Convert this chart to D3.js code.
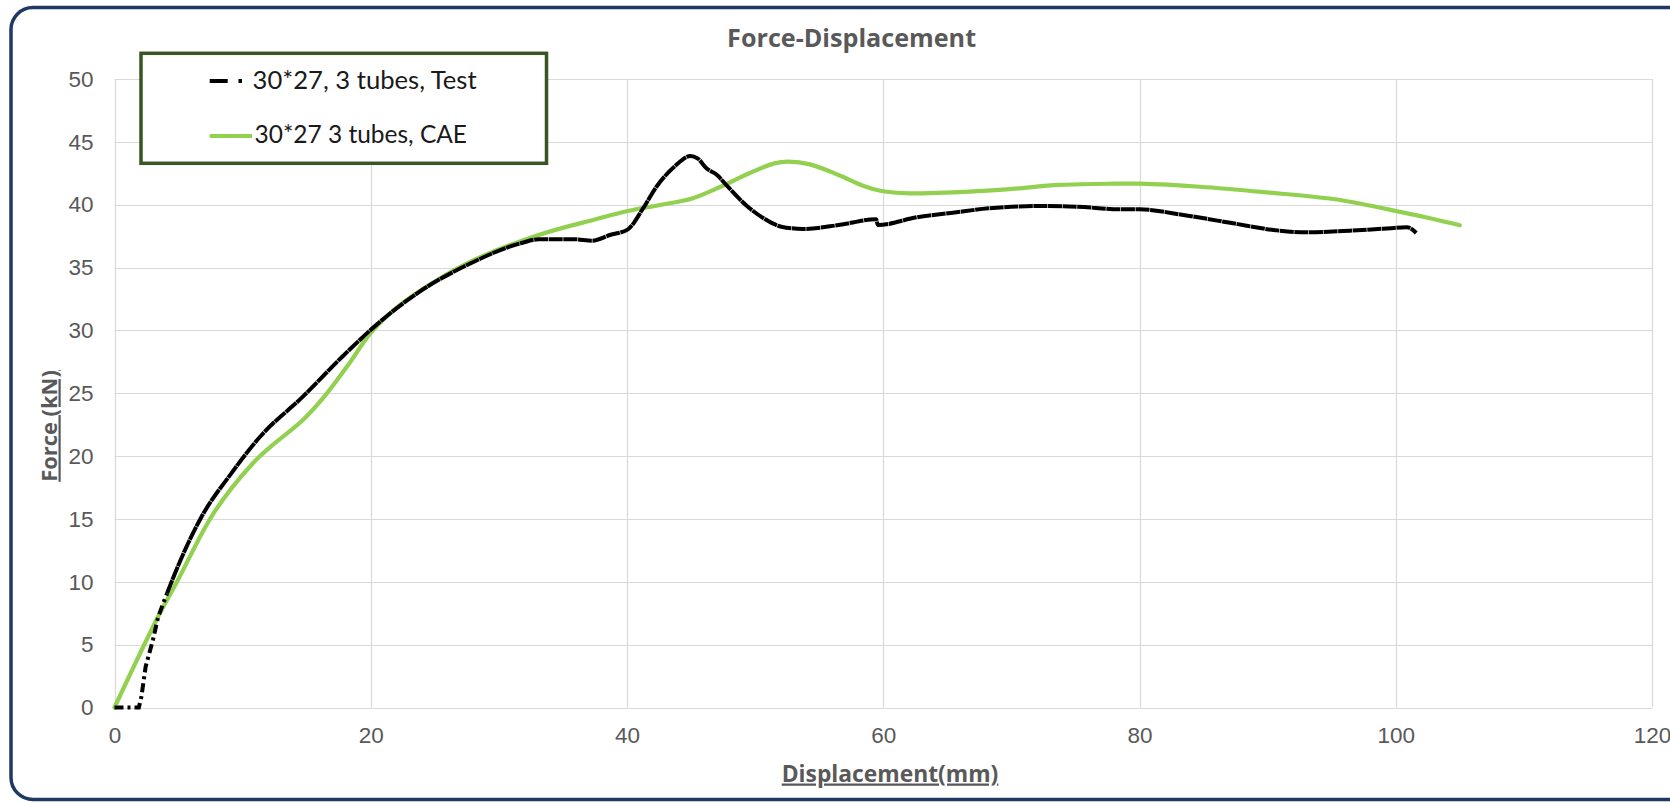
<!DOCTYPE html>
<html>
<head>
<meta charset="utf-8">
<script src="https://cdn.jsdelivr.net/npm/d3@7"></script>
<style>
  html, body { margin: 0; padding: 0; background: #ffffff; }
  svg { display: block; }
</style>
</head>
<body>
<svg id="chart" width="1670" height="803"></svg>
<script>
// ---- data ----
const chartTitle = "Force-Displacement";
const xTitle = "Displacement(mm)";
const yTitle = "Force (kN)";
const seriesNames = ["30*27, 3 tubes, Test", "30*27 3 tubes, CAE"];
const xTicks = [0, 20, 40, 60, 80, 100, 120];
const yTicks = [0, 5, 10, 15, 20, 25, 30, 35, 40, 45, 50];

const testX = [0, 1.9, 2.1, 2.43, 3.0, 3.41, 4.1, 5.1, 6.7, 9.12, 11.36, 14.7, 17.77, 20.28, 23.62, 27.52,
  31.7, 33.1, 35.9, 37.28, 38.67, 40.07, 41.18, 42.3, 43.69, 44.95, 45.5, 46.2, 47.03, 47.87, 49.27,
  50.66, 52.05, 53.73, 56.52, 59.44, 59.58, 62.64, 65.43, 68.22, 72.4, 75.2, 78.48, 80, 83.42, 87.32,
  90.44, 93.05, 96.43, 99.03, 100.86, 101.5, 101.6];
const testY = [0, 0, 0.86, 3.25, 5.37, 7.22, 9.08, 11.6, 15.0, 18.63, 21.54, 24.73, 27.9, 30.3, 32.95, 35.2,
  36.93, 37.25, 37.25, 37.14, 37.59, 38.04, 39.58, 41.43, 43.02, 43.87, 43.69, 42.9, 42.36, 41.43, 39.98,
  38.92, 38.25, 38.07, 38.38, 38.84, 38.38, 39.0, 39.36, 39.71, 39.9, 39.84, 39.63, 39.63, 39.18, 38.52,
  37.99, 37.8, 37.93, 38.09, 38.2, 37.85, 37.75];

const caeX = [0, 3.27, 4.95, 7.73, 10.8, 12.19, 14.7, 16.37, 18.2, 20.0, 21.95, 23.62, 27.52, 33.1, 37.56,
  40.07, 42.58, 45.08, 47.31, 49.54, 51.5, 52.61, 54.28, 56.52, 58.47, 59.86, 62.08, 65.43, 69.61, 73.8,
  78, 80, 84.7, 89.93, 95.13, 97.73, 100, 102.93, 105.0];
const caeY = [0, 6.96, 10.14, 15.45, 19.43, 20.75, 22.87, 24.73, 27.2, 29.8, 31.75, 33.0, 35.34, 37.59, 38.84,
  39.5, 39.98, 40.5, 41.43, 42.5, 43.29, 43.42, 43.21, 42.36, 41.49, 41.09, 40.9, 40.98, 41.22, 41.57,
  41.67, 41.67, 41.43, 40.98, 40.45, 39.98, 39.5, 38.86, 38.36];

// ---- drawing ----
const svg = d3.select("#chart");
const greyText = "#595959";
const gridColor = "#d9d9d9";
const green = "#92D050";

// outer rounded frame
svg.append("rect")
  .attr("x", 11).attr("y", 7.5).attr("width", 1720).attr("height", 792)
  .attr("rx", 22).attr("ry", 22)
  .attr("fill", "#ffffff").attr("stroke", "#1F3864").attr("stroke-width", 3.5);

const x = d3.scaleLinear().domain([0, 120]).range([114.5, 1652]);
const y = d3.scaleLinear().domain([0, 50]).range([707.5, 79]);

function fit(sel, target) {
  const node = sel.node();
  let fs = parseFloat(sel.attr("font-size"));
  for (let i = 0; i < 3; i++) {
    const w = node.getComputedTextLength();
    if (w > 0) { fs = fs * target / w; sel.attr("font-size", fs); }
  }
  return sel;
}

// gridlines
const grid = svg.append("g");
grid.selectAll("line.h").data(yTicks).join("line")
  .attr("x1", x(0)).attr("x2", x(120))
  .attr("y1", d => Math.round(y(d)) + 0.5).attr("y2", d => Math.round(y(d)) + 0.5)
  .attr("stroke", gridColor).attr("stroke-width", 1.2);
grid.selectAll("line.v").data(xTicks).join("line")
  .attr("y1", y(0)).attr("y2", y(50))
  .attr("x1", d => Math.round(x(d)) + 0.5).attr("x2", d => Math.round(x(d)) + 0.5)
  .attr("stroke", gridColor).attr("stroke-width", 1.2);

// axes (labels only, via d3 axes)
const xAxis = svg.append("g").attr("transform", `translate(0,${y(0)})`)
  .call(d3.axisBottom(x).tickValues(xTicks).tickSize(0).tickPadding(20).tickFormat(d3.format("d")));
const yAxis = svg.append("g").attr("transform", `translate(${x(0) - 21},0)`)
  .call(d3.axisLeft(y).tickValues(yTicks).tickSize(0).tickPadding(0).tickFormat(d3.format("d")));
[xAxis, yAxis].forEach(a => {
  a.select(".domain").remove();
  a.selectAll("text").attr("fill", greyText)
    .attr("font-family", "'Liberation Sans', Arial, sans-serif").attr("font-size", 22.5);
});

// series lines
const testPts = testX.map((v, i) => [v, testY[i]]);
const caePts = caeX.map((v, i) => [v, caeY[i]]);

svg.append("path")
  .datum(caePts)
  .attr("d", d3.line().x(d => x(d[0])).y(d => y(d[1])).curve(d3.curveCatmullRom.alpha(0.5)))
  .attr("fill", "none").attr("stroke", green).attr("stroke-width", 4.2)
  .attr("stroke-linecap", "round").attr("stroke-linejoin", "round");

const splitAt = 6;
svg.append("path")
  .datum(testPts.slice(0, splitAt + 1))
  .attr("d", d3.line().x(d => x(d[0])).y(d => y(d[1])))
  .attr("fill", "none").attr("stroke", "#000").attr("stroke-width", 4)
  .attr("stroke-dasharray", "9,4,3,4");
svg.append("path")
  .datum(testPts.slice(splitAt))
  .attr("d", d3.line().x(d => x(d[0])).y(d => y(d[1])).curve(d3.curveMonotoneX))
  .attr("fill", "none").attr("stroke", "#000").attr("stroke-width", 4)
  .attr("stroke-dasharray", "14,0.6")
  .attr("stroke-linejoin", "round");

// title
const t = svg.append("text").attr("x", 851.6).attr("y", 46.7)
  .attr("text-anchor", "middle").attr("font-family", "'Open Sans', sans-serif")
  .attr("font-weight", "bold").attr("font-size", 24).attr("fill", greyText).text(chartTitle);
fit(t, 249);

// x axis title
const xt = svg.append("text").attr("x", 890).attr("y", 781.5)
  .attr("text-anchor", "middle").attr("font-family", "'Open Sans', sans-serif")
  .attr("font-weight", "bold").attr("font-size", 22).attr("fill", greyText)
  .style("text-decoration", "underline").text(xTitle);
fit(xt, 216.7);

// y axis title
const yt = svg.append("text").attr("transform", "translate(56.5,426) rotate(-90)")
  .attr("text-anchor", "middle").attr("font-family", "'Open Sans', sans-serif")
  .attr("font-weight", "bold").attr("font-size", 22).attr("fill", greyText)
  .style("text-decoration", "underline").text(yTitle);
fit(yt, 111.7);

// legend
const lg = svg.append("g");
lg.append("rect").attr("x", 141).attr("y", 53.3).attr("width", 405.5).attr("height", 110)
  .attr("fill", "#ffffff").attr("stroke", "#375623").attr("stroke-width", 3.5);
lg.append("line").attr("x1", 209.7).attr("x2", 227.7).attr("y1", 81).attr("y2", 81)
  .attr("stroke", "#000").attr("stroke-width", 4);
lg.append("line").attr("x1", 238.5).attr("x2", 242).attr("y1", 81).attr("y2", 81)
  .attr("stroke", "#000").attr("stroke-width", 4);
lg.append("line").attr("x1", 209.7).attr("x2", 252).attr("y1", 136).attr("y2", 136)
  .attr("stroke", green).attr("stroke-width", 4.2);
const l1 = lg.append("text").attr("x", 252.6).attr("y", 89.3)
  .attr("font-family", "Lato, 'Open Sans', sans-serif").attr("font-size", 22).attr("fill", "#1a1a1a")
  .text(seriesNames[0]);
fit(l1, 224);
const l2 = lg.append("text").attr("x", 254.5).attr("y", 143.3)
  .attr("font-family", "Lato, 'Open Sans', sans-serif").attr("font-size", 22).attr("fill", "#1a1a1a")
  .text(seriesNames[1]);
fit(l2, 212.5);
</script>
</body>
</html>
